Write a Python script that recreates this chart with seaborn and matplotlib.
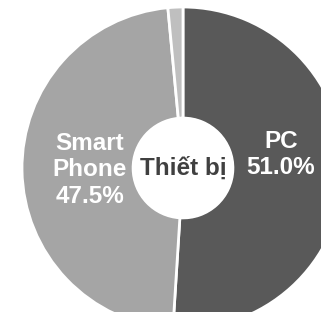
import matplotlib
matplotlib.use("Agg")
import matplotlib.pyplot as plt
import seaborn as sns

categories = ["PC", "Smart Phone", "Khác"]
values = [51.0, 47.5, 1.5]
colors = ["#595959", "#a5a5a5", "#bfbfbf"]
center_label = "Thiết bị"

sns.set_theme(style="white")
plt.rcParams['font.family'] = ['Liberation Sans', 'DejaVu Sans']

fig = plt.figure(figsize=(3.21, 3.12), dpi=100)
ax = fig.add_axes([0, 0, 1, 1])
ax.pie(values, colors=colors, startangle=90, counterclock=False,
       radius=1.0,
       wedgeprops=dict(edgecolor="white", linewidth=2, width=0.69))
ax.add_patch(plt.Circle((0, 0), 0.31, color="white", zorder=3))

r = 161.0
cx, cy = 183.0, 168.0
ax.set_aspect('auto')
ax.set_xlim(-cx / r, (321 - cx) / r)
ax.set_ylim(-(312 - cy) / r, cy / r)
ax.axis("off")

ax.text(0.0, 0.0, center_label, ha="center", va="center", fontsize=17.5,
        fontweight="bold", color="#404040", zorder=4)
ax.text(-0.578, -0.01, "Smart\nPhone\n47.5%", ha="center", va="center",
        fontsize=17.5, fontweight="bold", color="white", linespacing=1.2, zorder=4)
ax.text(0.609, 0.085, "PC\n51.0%", ha="center", va="center",
        fontsize=17.5, fontweight="bold", color="white", linespacing=1.2, zorder=4)

fig.savefig("out.png", dpi=100)
